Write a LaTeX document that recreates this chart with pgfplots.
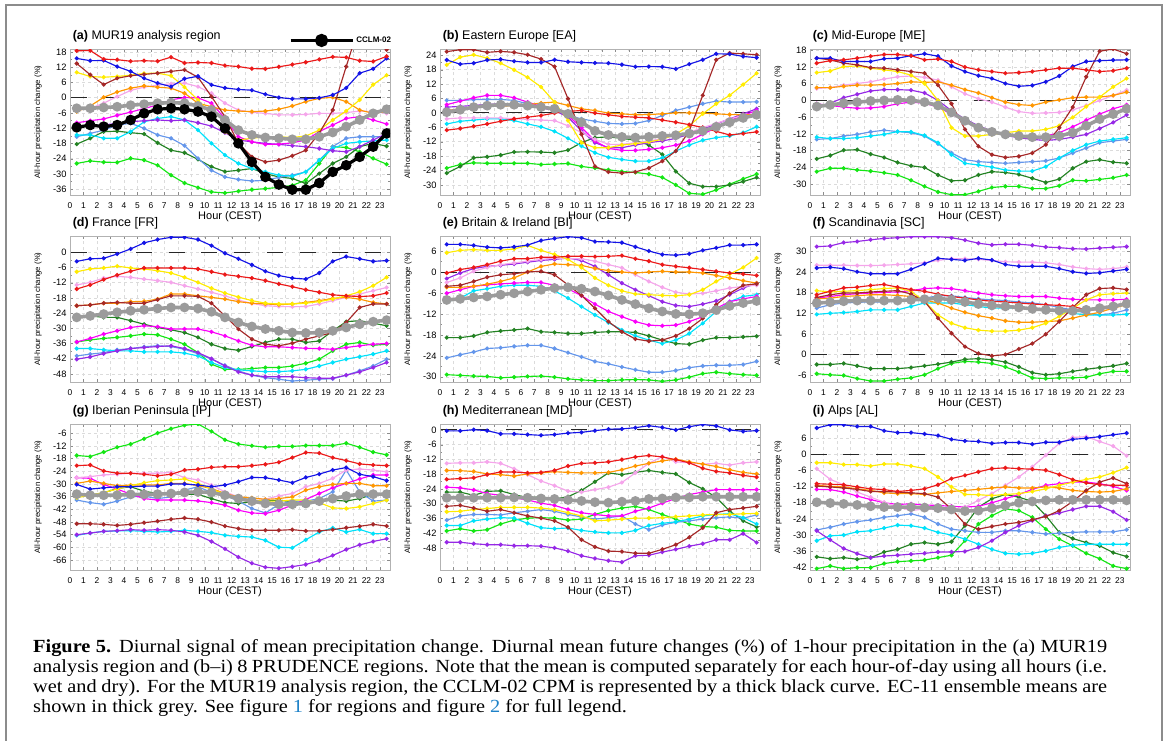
\documentclass[border=0pt]{standalone}
\usepackage{fontspec}
\setmainfont{Liberation Sans}
\newfontfamily\capfont[FakeStretch=1.10]{Liberation Serif}
\usepackage{pgfplots}
\usepackage{pgfplotstable}
\pgfplotsset{compat=1.18}
\definecolor{cred}{RGB}{235,25,25}
\definecolor{cblue}{RGB}{20,20,230}
\definecolor{cbrown}{RGB}{165,40,40}
\definecolor{cyellow}{RGB}{255,235,0}
\definecolor{corange}{RGB}{255,150,0}
\definecolor{cpink}{RGB}{245,165,235}
\definecolor{cmagenta}{RGB}{250,0,250}
\definecolor{cpurple}{RGB}{150,40,230}
\definecolor{ccyan}{RGB}{0,225,250}
\definecolor{clblue}{RGB}{100,150,235}
\definecolor{cdgreen}{RGB}{35,130,35}
\definecolor{cgreen}{RGB}{20,230,20}
\definecolor{cgrey}{RGB}{155,155,155}
\definecolor{clink}{RGB}{30,130,200}

% ---------------- data: one row per series, 24 hourly values (0.5 ... 23.5) ----------------
\pgfplotstableread{
name h0 h1 h2 h3 h4 h5 h6 h7 h8 h9 h10 h11 h12 h13 h14 h15 h16 h17 h18 h19 h20 h21 h22 h23
red 18.4 18.5 15.1 14.9 14.3 14.5 14.3 15.9 13.6 13.8 13.6 12.6 12.2 11.4 11.3 12.1 13 13.9 15 16 15.8 14.5 14.2 16.2
blue 15.4 14.5 14.6 12.2 10.3 7.6 5.7 4.3 7.4 8.4 5 3.8 3.2 2.9 1.3 0 -0.5 -0.5 -0.1 1 3.8 9.6 11.3 15.4
brown 13.4 9 5.1 7.6 8.6 9.1 9.6 10.3 10.9 8 0.4 -7.5 -18 -23.3 -25.3 -24.6 -22.9 -20.7 -14 -4.9 12.2 29 28 18.8
yellow 9.9 8.3 8 8.3 8.8 9.5 9.6 8.6 4.1 -0.9 -6.8 -13.4 -16.7 -16 -15.4 -15.4 -15.7 -15.1 -12.8 -8.8 -5.3 -0.9 5.1 8.8
orange -5.5 -3.3 0.1 2.2 3.7 4.6 4.1 3.7 1.7 -2.2 -3.6 -4.9 -5.3 -5.5 -5.3 -4.6 -3.3 -1.6 -0.3 0.1 -1.6 -4.9 -6.2 -5.5
pink -4.9 -4.2 -2.2 0.4 2.8 4.1 4.9 5.4 5.7 4.3 1.7 -2.2 -4.9 -5.8 -6.2 -6.8 -6.8 -6.6 -6.2 -6.2 -5.9 -5.3 -5.5 -6.2
magenta -9.9 -9.1 -8.4 -7 -5.7 -4.3 -2.9 -0.9 0 -0.1 -2.2 -8.2 -15.4 -17.4 -18.4 -18.3 -17.8 -16.7 -13.4 -10.8 -8.2 -7.5 -8.8 -10.4
purple -11.4 -11.2 -10.8 -10.1 -9.5 -9.1 -8.8 -9.1 -8.8 -9.9 -11.2 -13.8 -16.7 -17.4 -18 -18.4 -18.9 -19.3 -20 -20.9 -21.3 -19.3 -16.7 -14.1
cyan -14.7 -14.7 -16 -16 -13.4 -9.5 -8.2 -7.5 -8.8 -12.8 -18 -22.6 -25.9 -27.9 -29.2 -30.5 -30.9 -29.2 -24.6 -20 -18 -17.4 -17 -16.7
lblue -15.4 -14.1 -12.8 -10.8 -10.1 -12.1 -14.7 -16 -18.9 -23.9 -28.6 -31.2 -32.2 -32.8 -32.5 -31.4 -30.5 -29.2 -24.6 -19.3 -16 -15.4 -15.4 -15.4
dgreen -18.3 -16 -13.4 -13.2 -13.8 -14.3 -17.8 -20.7 -21.7 -24.3 -27.2 -29.1 -28.6 -27.9 -29.9 -31.2 -31.8 -33.8 -29.9 -25.9 -23.3 -19.3 -18 -19.1
green -25.9 -24.9 -25.4 -25.5 -23.9 -24.6 -26.6 -30.5 -33.6 -35.4 -37.1 -37.5 -36.8 -36.2 -35.8 -35.3 -34.5 -32.5 -25.9 -19.3 -19.6 -21.3 -23.9 -26.2
grey -4.2 -4.2 -3.9 -3.6 -3 -2.6 -2.2 -2 -2.2 -3.3 -4.9 -8.8 -12.8 -14.7 -15.7 -16 -16.4 -16.4 -15.4 -13.7 -11.4 -8.8 -6.2 -4.6
black -11.7 -10.8 -11.4 -10.8 -8.8 -6.2 -4.6 -4.2 -4.6 -5.5 -7.5 -12.1 -18 -25.3 -31.2 -34.2 -36.2 -36.2 -33.6 -29.2 -26.6 -23.3 -19.3 -14.1
}\rawA
\pgfplotstableread{
name h0 h1 h2 h3 h4 h5 h6 h7 h8 h9 h10 h11 h12 h13 h14 h15 h16 h17 h18 h19 h20 h21 h22 h23
red -7.2 -6.5 -5.6 -4.6 -3.5 -2.5 -1.8 -1.1 -0.1 0.6 1 -0.1 -0.8 -1.5 -1.8 -2.1 -3 -3.9 -4.9 -6.1 -7.7 -9.2 -8.6 -7.9
blue 22 20.3 20.7 22 22.3 21.5 21 21 22.1 21.3 21 20.8 20.7 20.1 19.2 19.3 19.2 18.3 20.3 22.1 24.6 24.5 23.5 23
brown 25.5 26.3 26.3 25.2 25.6 25.2 24.2 22.4 19.3 5.9 -8.9 -22.3 -24.6 -25.1 -24.6 -23 -20.1 -15.9 -7.5 7.3 22.1 24.9 24.6 24.2
yellow 20 23.2 24.2 22.8 20.7 17.9 14.8 10.8 4.5 -3.2 -12.4 -14.5 -14.5 -13.4 -12.8 -12.1 -11 -8.9 -5.4 -0.4 3.8 7.3 11.8 16.5
orange 1 1.7 2.4 2.7 2.7 3.1 3.4 4.1 4.5 3.1 1.7 1 -0.1 -0.4 -0.8 -0.7 -0.4 0 0 -0.1 -0.4 -0.7 -0.8 -0.8
pink -2.5 -2.1 -2.1 -2.1 -2.1 -2.4 -2.7 -3 -3.2 -5.4 -8.2 -11 -13.1 -13.1 -12.4 -11.7 -10.7 -9.2 -8.2 -6.1 -4.4 -2.5 -1.1 -0.1
magenta 3.4 4.9 6.3 7.3 7.3 6.3 4.5 2.7 1.7 -1.1 -6.1 -11.7 -14.8 -15.6 -15.6 -15.2 -14.5 -13.4 -11.7 -8.9 -6.1 -3.2 -1.1 1
purple 2.4 2.7 3.1 3.5 3.8 3.5 2.7 2.1 1 -1.8 -7.5 -12.4 -14.5 -14.5 -13.4 -12.4 -11.7 -10.6 -8.9 -6.8 -4.6 -2.5 -0.4 1.7
cyan -4.6 -3.5 -3 -2.5 -2.5 -3.2 -4.6 -5.8 -7.7 -10.6 -13.8 -16.6 -18.5 -19.4 -20.1 -20.1 -18.7 -15.9 -13.4 -11.4 -10.3 -9.6 -8.2 -5.8
lblue 5.2 5.2 5.5 5.6 5.6 5.2 3.8 2.4 1 -1.1 -2.5 -3.5 -4.4 -4.6 -4.4 -3.2 -1.1 1 2.4 3.8 4.9 4.5 4.5 4.6
dgreen -25.1 -22.3 -18.7 -18.3 -17.6 -16.3 -16.2 -16.3 -16.6 -15.5 -12.4 -10.3 -10 -10.6 -11.4 -13.4 -17.3 -24.4 -29.3 -30.7 -30.7 -30 -28.6 -26.9
green -23 -21.5 -20.8 -21 -21 -21 -21 -21.5 -21.3 -21.1 -22.3 -23 -23.7 -24.4 -24.8 -25.5 -26.9 -30 -33.5 -33.9 -32.1 -29.7 -27.5 -25.5
grey 0.3 1.3 2.4 3 3.4 3.4 3 2.4 1.7 -0.4 -3.9 -7.5 -9.2 -10 -10.3 -10 -9.6 -9.3 -8.6 -7.5 -5.8 -3.9 -2.1 -0.8
}\rawB
\pgfplotstableread{
name h0 h1 h2 h3 h4 h5 h6 h7 h8 h9 h10 h11 h12 h13 h14 h15 h16 h17 h18 h19 h20 h21 h22 h23
red 13.4 14.3 14.6 15.2 15.9 16.5 16.5 16.1 14.6 14.9 14 12 11 10.4 9.8 10 10.4 11 11.6 11.6 11 10.4 10.7 11.6
blue 15.2 15.2 14 14 14 15 15.2 16.1 16.8 15.9 12.4 10.4 8.9 7.9 6.1 5.1 5.4 6.7 8.8 12.2 14 14.3 14.5 14.6
brown 15.2 14.6 13.4 12.8 11.8 11.6 11 10.4 9.8 5.5 -1.2 -10.4 -16.5 -19.5 -20.5 -20.1 -18.9 -15.9 -9.8 -2.4 8.5 17.7 18.5 16.8
yellow 10 10.6 12.2 12.4 11.6 11 10.4 9.1 6.1 0 -9.8 -12.8 -12.8 -12.2 -11.6 -11 -11 -10.4 -9.1 -6.1 -2.2 1.2 4.9 7.9
orange 4.6 4.6 5.1 5.5 5.5 5.7 6.1 6.7 6.5 6.7 5.5 3.9 2.7 1 -0.6 -1.5 -1.8 -0.6 0.2 1 1.2 1.2 1.8 3
pink 4.3 4.6 5.5 6.1 6.7 7.7 8.5 8.8 8.3 7.3 4.9 2.4 0.6 -0.6 -2.4 -4 -4.6 -4.5 -4.3 -3.4 -1.8 0 1.8 3.7
magenta -1.2 -1.8 -2.4 -2.8 -2.7 -2.2 -1.2 -0.6 -1 -2.4 -4.9 -7.3 -9.8 -11.3 -12.4 -13.2 -13.4 -12.8 -11.6 -9.5 -7.1 -4.9 -3 -1.6
purple -2.2 -1 1 2.2 3.4 3.9 3.9 3.7 2.7 0 -3.7 -6.7 -9.1 -11 -12.6 -13.4 -14 -14.4 -14 -13.2 -12.2 -10.1 -7.9 -5.2
cyan -13.2 -13.7 -13.7 -13.4 -12.8 -12.2 -11.2 -11.3 -12.6 -15.2 -19.5 -22.6 -23.2 -24 -25 -25.4 -25.4 -23.8 -20.7 -18 -15.9 -14.6 -14 -13.4
lblue -14 -13.7 -12.8 -12.2 -11.3 -10.7 -11.2 -11.6 -12.8 -15.6 -18.9 -21.3 -22 -22.3 -22.6 -22.3 -22 -21.7 -20.7 -18.9 -17.1 -15.2 -14.6 -14
dgreen -21 -19.8 -17.9 -17.7 -19.3 -20.5 -22.3 -23.5 -24.1 -26.8 -28.9 -28.7 -26.8 -25.6 -25.9 -26.6 -28 -29.5 -28.3 -24.4 -22 -21.3 -22.2 -22.6
green -25.6 -24.4 -24.4 -25 -25.4 -26 -26.8 -28.7 -30.9 -32.9 -33.9 -33.9 -32.7 -31.3 -30.9 -30.9 -31.7 -31.7 -30.7 -28.7 -28.9 -28.4 -27.8 -26.8
grey -2.2 -1.6 -1 -0.6 -0.2 0 0.2 0.1 -0.6 -1.8 -4.3 -7.3 -9.8 -11.3 -12.2 -12.8 -13.2 -13.2 -12.8 -11.6 -9.1 -6.7 -4.9 -3
}\rawC
\pgfplotstableread{
name h0 h1 h2 h3 h4 h5 h6 h7 h8 h9 h10 h11 h12 h13 h14 h15 h16 h17 h18 h19 h20 h21 h22 h23
red -14.5 -12.9 -10.8 -9 -7.5 -6.2 -6.2 -6.2 -6.2 -6.6 -7.7 -8.8 -9.5 -10.2 -11.2 -12.5 -13.6 -14.8 -15.8 -16.8 -17.2 -17.5 -17.2 -16.1
blue -3.6 -2.6 -2.4 -0.7 1.3 3.7 5 5.9 5.9 5 2.6 -0.4 -2.6 -5 -7.5 -9.2 -10.2 -10.6 -8.2 -3.6 -1.7 -2.6 -3.6 -3.3
brown -21.1 -20.8 -20.1 -19.8 -20.1 -20.1 -18.7 -17.2 -17.2 -17.4 -20.1 -25.1 -30.3 -34.3 -36.3 -36.9 -35.9 -34.3 -33 -31.7 -27.7 -21.8 -20.4 -20.4
yellow -7.7 -6.6 -6.2 -5.5 -6.2 -6.6 -7.3 -8.2 -9.9 -11.9 -14.2 -16.1 -17.7 -19.1 -20.1 -20.4 -20.4 -20.1 -19.5 -18.5 -17.2 -15.6 -13.2 -9.9
orange -21.1 -20.8 -20.1 -20.1 -19.5 -19.4 -18.5 -16.5 -16.5 -17.2 -17.8 -18.5 -19.5 -20.1 -20.4 -20.7 -20.4 -19.8 -19.1 -18.2 -17.8 -18.5 -19.8 -20.4
pink -12.9 -11.9 -10.2 -9.5 -9.9 -10.6 -11.2 -11.9 -13.2 -14.5 -15.8 -17.2 -18.9 -20.2 -21.1 -21.4 -21.5 -21.4 -20.4 -19.1 -17.8 -16.5 -15.2 -13.9
magenta -35.4 -34 -32.3 -31 -29.7 -29 -29.4 -30.3 -30.3 -30.3 -31.4 -33 -35 -36.7 -37.3 -37.3 -37.6 -37.9 -38 -38.3 -37.6 -36.9 -36.3 -36
purple -42.2 -41.3 -40 -38.9 -38 -37.6 -37.2 -36.9 -38 -39.6 -42 -44.9 -47.2 -48.5 -49.1 -49.1 -49.1 -49.5 -49.7 -49.7 -48.5 -47.2 -45.5 -43.5
cyan -38 -38 -38.5 -38.9 -38.9 -39.3 -39.3 -39.3 -39.8 -40.9 -43.5 -45.5 -46.4 -46.8 -47.1 -47.1 -46.8 -46.2 -44.9 -43.5 -42.2 -41.2 -40.2 -38.9
lblue -40.9 -40.2 -39.6 -38.5 -38 -37.3 -36.9 -37.2 -38.3 -40 -42.2 -44.6 -46.8 -48.5 -49.5 -50.1 -50.8 -50.5 -50.1 -49.9 -48.5 -46.8 -44.9 -42.2
dgreen -25.5 -25.1 -25.7 -25.7 -27 -28.4 -29.7 -30.6 -31.7 -33.6 -36.3 -38 -38.7 -37.2 -35.6 -34.3 -34.3 -35.6 -35 -31 -27.4 -27 -28 -29
green -35.4 -34.6 -34 -33.6 -33 -32.3 -32.6 -34.3 -36.3 -39.6 -44.2 -46.2 -46.2 -45.9 -45.5 -45.5 -44.9 -43.8 -42.2 -38.9 -36.3 -35.6 -36.7 -36.3
grey -25.7 -25.1 -24.4 -23.7 -23.1 -22.7 -22.2 -21.8 -21.8 -22.2 -23.5 -25.7 -27.7 -29.3 -30.3 -31 -31.7 -31.9 -31.7 -31 -29.7 -28.4 -27.4 -26.8
}\rawD
\pgfplotstableread{
name h0 h1 h2 h3 h4 h5 h6 h7 h8 h9 h10 h11 h12 h13 h14 h15 h16 h17 h18 h19 h20 h21 h22 h23
red -0.3 0.7 1.3 2.1 3.1 3.8 3.8 4.2 4.2 4.5 4.5 4.4 4.5 4.7 3.8 3.1 2.1 1.6 1.2 0.7 0.2 -0.3 -0.6 -1
blue 7.9 7.9 7.6 7.1 6.9 7.2 7.7 9 9.6 10.1 9.8 8.7 8.6 8.4 7.2 6 5 4.8 5.2 6.2 6.9 7.7 7.7 7.9
brown -4.1 -3.8 -2.7 -1.5 -0.8 -0.5 0 0.2 -0.8 -3.7 -6.7 -10.4 -14.2 -17.1 -19.2 -19.8 -19.5 -18.3 -16.2 -13.3 -9.4 -6.1 -3.8 -3.4
yellow 5.5 6.2 6.4 6.2 6.2 6.6 7.6 6.2 5 3.6 1.3 -1.7 -3.8 -5.4 -6.3 -6.5 -6.7 -6.8 -6.5 -5.1 -2.7 -0.6 1.3 4
orange -4.4 -4.4 -4.1 -3.5 -2.7 -1.7 0 1.6 2.3 2.1 1.9 1 0.4 0 -0.3 0 0.2 0 0 -0.3 -1 -1.7 -2.5 -3.2
pink -3 -1.7 0.2 1.3 2.1 2.6 3.1 3.6 4 3.8 3.8 3.1 2.1 1.2 -0.8 -2.7 -4.4 -5.8 -6.3 -6.1 -5.4 -4.6 -4.1 -3.8
magenta -6.1 -5.1 -4.1 -3.7 -3.4 -3.2 -3 -3 -3.8 -4.8 -6.8 -9.2 -11.3 -12.8 -14.2 -15.2 -15.4 -15.2 -14.2 -12.8 -10.4 -8.5 -7.7 -7
purple -1.9 -0.3 1 1.6 1.9 2.3 2.8 3.3 3.6 4 3.3 1.6 -0.8 -3.2 -5.1 -6.8 -8.5 -9.6 -9.9 -9.2 -8.3 -6.5 -4.6 -3.2
cyan -8.5 -7.5 -5.4 -4.8 -4.1 -3.8 -3.8 -4.1 -5.4 -7.5 -9.9 -12.3 -14.5 -16.6 -18.3 -19.5 -20.5 -19.5 -17.6 -14.7 -11.3 -8.5 -7 -6.5
lblue -24.6 -23.7 -22.9 -21.9 -21.7 -21.3 -21 -21 -21.9 -23.1 -24.3 -25.6 -26.3 -27.2 -28 -28.7 -28.7 -28.2 -27.4 -26.9 -26.7 -26.7 -26.5 -25.6
dgreen -18.8 -18.8 -18.3 -17.3 -16.9 -16.6 -16.2 -17.1 -17.3 -17.6 -17.6 -17.3 -17.1 -17.1 -17.3 -18.3 -19.5 -20.5 -20.7 -19.5 -18.8 -18.8 -18.6 -18.4
green -29.4 -29.6 -29.8 -29.9 -30.3 -30.1 -29.9 -29.8 -30.1 -30.6 -30.9 -31.1 -31.1 -30.9 -30.8 -30.9 -31.3 -30.9 -30.1 -29.1 -28.7 -29.1 -29.4 -29.6
grey -8 -7.7 -7.3 -7 -6.5 -6.1 -5.6 -5.1 -4.6 -4.4 -4.8 -5.6 -6.7 -8 -9.2 -10.4 -11.3 -12 -12.1 -11.8 -10.9 -9.7 -8.9 -8.3
}\rawE
\pgfplotstableread{
name h0 h1 h2 h3 h4 h5 h6 h7 h8 h9 h10 h11 h12 h13 h14 h15 h16 h17 h18 h19 h20 h21 h22 h23
red 17.4 18.4 19.4 19.6 20.1 20.4 19.6 18.9 18.4 17.6 16.9 16.4 15.9 15.5 15.3 15 14.7 14.5 14.3 14 13 13 14 15.3
blue 25.2 25.4 25 24.1 23.5 23.5 23.5 24.8 26.4 28 27.7 27.4 28 27.5 26.2 25.7 25.7 25.7 25 24.1 23.6 23.8 24.3 24.8
brown 16.6 17.4 17.9 17.9 18.2 18.4 18.6 17.6 15.5 10.6 6.2 2.3 0.3 -0.4 0 1.6 3.2 5.9 9.6 13.7 17.4 19.2 19.4 18.9
yellow 18.6 18.2 18.4 18.6 18.9 19.2 19.4 18.4 15.5 11.5 9.1 7.8 7.1 6.8 6.8 7.1 7.8 9.1 11.1 13.5 15.9 17.4 17.7 17.9
orange 16.2 16.4 16.9 17.1 17.4 17.4 17.2 16.9 15.9 15 13.5 12.3 11.3 10.6 9.8 9.4 9.4 9.6 9.8 10.6 11.5 12.3 13.5 14.5
pink 26 26 26 25.9 25.9 26 26.2 26.4 26.7 27.4 27.9 27.9 27.7 27.4 27 26.9 26.9 26.7 26.2 25.5 25 24.8 25 25.5
magenta 16.4 16.9 17.4 17.7 17.9 18.1 18.2 18.6 19.2 19.4 19.2 18.6 17.9 17.4 17.1 16.9 16.9 16.9 16.4 16.1 15.9 15.9 15.9 16.1
purple 31.4 31.6 32.6 32.9 33.4 33.8 34 34.3 34.3 34.3 34 33.3 32.4 31.9 32.1 32.1 31.8 31.3 31.1 30.8 30.7 31 31.2 31.4
cyan 11.7 12 12.2 12.5 13 13 13 14 15 15 15 14.5 14 13.5 13.5 13.5 13.3 13 12.5 12 11.5 11.5 11.5 11.7
lblue 13.5 14.5 15 15.2 15.3 15.3 15.5 15.9 16.4 17.1 17.1 16.6 16.2 15.9 15.7 15.3 15 14.5 13.7 13 12 11.5 12 13
dgreen -2.9 -2.9 -2.6 -3.3 -4.1 -4.1 -4.1 -3.8 -3.3 -2.8 -2.2 -1.4 -1.2 -1.5 -2.2 -3.6 -5.3 -5.9 -5.6 -4.9 -4.3 -3.8 -3.3 -2.6
green -5.6 -5.9 -6.1 -7 -7.7 -7.7 -7.2 -6.8 -5.9 -4.1 -2.6 -2 -2.2 -2.6 -3.6 -5.1 -6.8 -7 -6.8 -6.8 -6.6 -5.6 -4.9 -4.9
grey 15 15.2 15.5 15.7 15.7 15.7 15.7 15.9 16.1 16.4 15.9 15.3 14.7 14.3 14 13.7 13.3 13 12.8 12.7 13 13.5 14 14.8
}\rawF
\pgfplotstableread{
name h0 h1 h2 h3 h4 h5 h6 h7 h8 h9 h10 h11 h12 h13 h14 h15 h16 h17 h18 h19 h20 h21 h22 h23
red -21.4 -21.1 -23.9 -25 -25 -25.5 -26.2 -25.5 -23.5 -23.1 -22.2 -21.9 -21.9 -21.4 -20.8 -19.8 -17.6 -15.2 -15.5 -17.6 -19 -20.6 -21.1 -21.4
blue -30.3 -32.5 -31.9 -31.4 -31.4 -31.1 -31.1 -30.1 -30.1 -30.6 -31.4 -30.6 -29 -27 -27.1 -28.2 -29.5 -27 -25.4 -23.5 -22.3 -25.5 -26.6 -28.5
brown -48.9 -48.9 -49.2 -49.7 -49.2 -48.4 -47.7 -46.8 -46.2 -46.8 -48.1 -50 -51.2 -52 -52 -52 -51.7 -52.3 -52.3 -51.7 -50.8 -50.1 -49.2 -50
yellow -36.6 -35.4 -34.1 -32.5 -30.9 -29.5 -28.5 -28.2 -27.7 -29.8 -32.5 -35 -36.6 -37.7 -38.2 -38.2 -37.7 -37.7 -38.9 -41.4 -41.7 -40.9 -39.3 -37.7
orange -29.8 -28.7 -29.8 -30.9 -30.6 -30.6 -30.6 -29.8 -29.8 -30.9 -32.2 -34.6 -36.2 -36.6 -37.4 -37 -36.2 -33 -31.4 -30.3 -29.8 -29.8 -30.9 -30.9
pink -27.1 -26.6 -25.8 -25.5 -25 -25 -25 -24.6 -27.1 -28.2 -30.6 -33.8 -36.2 -37 -37.3 -35.7 -34.6 -31.4 -29.8 -27.4 -23.5 -23 -23.5 -24.3
magenta -27.1 -27.4 -30.3 -32.5 -34.9 -37 -37.7 -37.7 -37.7 -38.1 -38.9 -40.1 -42.5 -43.8 -44.1 -42.5 -40.1 -37.4 -34.6 -31.9 -29.8 -27.7 -25.8 -25.8
purple -54.1 -53.3 -52.5 -52.2 -51.7 -52 -51.7 -52 -52.8 -54.4 -57.3 -60.8 -64.7 -67.6 -69.5 -70 -69.2 -68.2 -66.3 -63.9 -61.1 -58.9 -57.3 -56
cyan -54.4 -53.3 -52.5 -52.3 -52.2 -52.5 -52.8 -52.5 -52 -52.5 -53.1 -54.4 -54.9 -55.2 -56.8 -60 -60.3 -56.5 -52.8 -50.9 -52.8 -51.6 -53.6 -53.6
lblue -37.7 -38.9 -39.7 -38.2 -36.2 -35.8 -37 -36.2 -33 -31.4 -34.1 -35.4 -38.2 -41.7 -43.8 -39.8 -38.2 -38.2 -37 -33.8 -23.5 -33.8 -38.2 -37.7
dgreen -35.4 -35.4 -34.3 -32.2 -31.4 -33.5 -34.6 -34.9 -34.9 -35 -37 -38.9 -39.3 -38.5 -38.2 -37.7 -38.5 -38.9 -38.2 -37.7 -38.2 -37 -35 -34.6
green -16.6 -17.1 -15 -12.7 -11.2 -8.7 -6 -3.9 -2.3 -1.7 -5.2 -9.2 -11.2 -12 -12.7 -12.3 -12.3 -11.9 -11.9 -11.9 -10.8 -12.7 -15 -16.3
grey -34.9 -35.4 -35.4 -35.4 -35 -35 -34.9 -34.6 -34.1 -33.8 -34.1 -35.4 -37 -38.2 -39.3 -39.7 -39.7 -39.3 -38.2 -37 -35.8 -34.9 -34.9 -34.9
}\rawG
\pgfplotstableread{
name h0 h1 h2 h3 h4 h5 h6 h7 h8 h9 h10 h11 h12 h13 h14 h15 h16 h17 h18 h19 h20 h21 h22 h23
red -20.1 -19.8 -19.5 -18.2 -17.1 -17.1 -17.5 -17.3 -16.5 -14.7 -13.6 -13.4 -13 -12.1 -11 -10.4 -11 -12.1 -13.4 -15.6 -16.9 -17.5 -18.5 -19.2
blue -0.4 -0.4 0.1 -0.3 -1.6 -1.6 -1.9 -2.2 -1.9 -1.3 -1 -0.3 0.3 0.4 0.9 1.7 1 0 1.3 2.2 1.6 0 -0.6 -0.3
brown -31.1 -30.7 -31.8 -33.1 -32.4 -33.7 -35 -35.9 -37 -39.6 -44.7 -47.6 -49.3 -49.5 -50.2 -50.2 -48.6 -46.7 -43.7 -39.8 -33.7 -32.4 -31.8 -31.1
yellow -33.3 -33.1 -32.4 -32 -31.5 -31.5 -31.5 -31.8 -32.4 -33.7 -35 -37 -36.7 -36.3 -35.9 -35.9 -35.7 -35.3 -35 -34.6 -34.4 -34.4 -34.1 -34
orange -16.5 -16.6 -16.9 -17.9 -18.2 -18.8 -17.9 -17.5 -17 -17.3 -17.5 -17.5 -17.3 -16.2 -14.7 -13.6 -12.6 -11.9 -13 -13.9 -14.9 -16.2 -17.3 -17.9
pink -13.6 -13.4 -13.4 -13 -13.6 -15.8 -18.2 -20.8 -22.7 -24.9 -25.3 -24.3 -23.3 -21.4 -17.5 -13.6 -10.8 -13 -13.4 -13.9 -13.6 -14.3 -13.4 -13
magenta -23.3 -23.6 -24.4 -25.9 -26.6 -27.6 -28.5 -29.8 -30.7 -32.4 -33.7 -34.4 -35 -35 -33.1 -31.8 -29.8 -27.9 -26.3 -25.3 -24.3 -24.3 -24.4 -24.3
purple -45.7 -45.7 -46.3 -46.7 -46.7 -47.1 -47.1 -47.3 -48 -49.3 -51.2 -52.3 -53.2 -53.8 -51.2 -51 -49.7 -48.6 -47.3 -46.3 -44.7 -44.7 -42.2 -45.8
cyan -38.9 -38.9 -37 -36.3 -35.7 -35.9 -38 -39.8 -40.2 -39.9 -40.9 -41.5 -41.9 -41.9 -40.9 -38.9 -38 -37.4 -36.3 -35 -34.4 -34.1 -35.7 -38.3
lblue -36.7 -35 -34.4 -34.4 -34.6 -33.7 -33.1 -32.4 -33.1 -34.4 -35.4 -36.3 -35.7 -35 -38.3 -40.6 -38.7 -37.6 -37 -36.3 -35.7 -35.4 -35.9 -34.6
dgreen -25.3 -25.3 -26.6 -25 -24.8 -26.3 -27.6 -27.2 -28.1 -27.2 -24.6 -21.1 -17.5 -18.2 -17.3 -16.5 -17.3 -17.9 -21.4 -24 -27.5 -33 -37 -39.5
green -41.1 -40.2 -41.1 -40.6 -38.3 -36.7 -35.9 -35.7 -35.9 -36.7 -36.3 -34.4 -32.8 -31.8 -31.1 -32.4 -34.4 -36.3 -38.3 -39.3 -39.6 -40.9 -41.1 -41.1
grey -27.6 -27.6 -27.6 -27.6 -27.6 -27.5 -27.6 -27.9 -28.1 -28.5 -28.9 -29.4 -29.6 -29.2 -28.9 -28.1 -27.9 -27.5 -27.5 -27.2 -27.2 -27.2 -27.2 -27.2
}\rawH
\pgfplotstableread{
name h0 h1 h2 h3 h4 h5 h6 h7 h8 h9 h10 h11 h12 h13 h14 h15 h16 h17 h18 h19 h20 h21 h22 h23
red -10.9 -11.1 -11.3 -12.1 -12.8 -13.1 -13.8 -13.4 -12.8 -11.3 -9 -7.8 -6.5 -5.3 -5 -5.3 -5.5 -5.9 -7.5 -9.4 -10.6 -11.3 -11.5 -11.5
blue 9.8 11 11 10.4 10.4 8.8 8.1 8.1 7.6 7 5.6 5 4.8 4.1 4.4 4.4 3.8 4.5 4.5 5.6 6 6.6 7.3 7.9
brown -11.8 -12.1 -12.5 -13 -13.8 -13.8 -14 -14.3 -14.6 -15.9 -20.3 -25.9 -27.8 -26.8 -25.9 -25.3 -24.3 -23.1 -20.9 -17.5 -13.4 -10.3 -8.8 -10.9
yellow -3.1 -3.1 -3.8 -3.8 -4.3 -3.6 -3.6 -4.3 -5.3 -8.4 -12.1 -14.9 -15 -15.3 -14.9 -14.6 -13.8 -12.8 -11.5 -10.3 -9.3 -8.4 -6.8 -4.9
orange -11.5 -11.9 -12.1 -12.8 -13.4 -14.3 -14.6 -14.6 -14.9 -14.3 -13.8 -13.4 -13 -12.5 -12.1 -12.5 -12.5 -12.1 -12.5 -13.4 -13.8 -14 -13.8 -12.8
pink -5.3 -9.3 -11.3 -14 -15.9 -17.8 -19.6 -20.9 -20.3 -20.6 -20.6 -19.6 -17.1 -14.6 -11.5 -8.4 -4.6 -0.3 4.1 6.3 6.6 4.8 3.1 -0.5
magenta -13 -13.1 -14 -15.5 -16.8 -18 -18.6 -18.4 -18.8 -19 -19.3 -19.6 -19.3 -18 -16.5 -14.9 -13 -11.5 -10.9 -10.3 -10.3 -10.9 -11.9 -13.4
purple -28.4 -31.8 -35 -36.9 -38.4 -37.8 -37.5 -37.1 -36.8 -36.3 -36.3 -36.1 -34.6 -32.1 -29 -26.5 -24.6 -22.8 -21.8 -20.5 -19.3 -19.3 -21.3 -24.4
cyan -32.1 -30.3 -30 -28.8 -28.4 -27.4 -26.3 -26.5 -27.4 -29 -30 -31.5 -33.4 -35.3 -36.8 -37.1 -36.8 -35.9 -34.6 -33.8 -33.4 -33.4 -33.4 -33.4
lblue -28.1 -27.1 -25.9 -25 -24.4 -23.4 -22.8 -22.1 -23.4 -25.9 -27.8 -28.4 -29 -29 -28.4 -28.4 -29 -29.6 -29.3 -29 -28.8 -28.8 -28.8 -28
dgreen -38.1 -38.8 -38.4 -39 -38.4 -36.3 -35.3 -33.4 -32.8 -33.4 -32.5 -26.5 -19.6 -16.5 -14.9 -15.9 -17.5 -22.8 -29 -31.3 -32.8 -34 -36.5 -38
green -42.5 -41.5 -42.5 -42.1 -42.1 -40.6 -39.9 -39.6 -39.3 -38.4 -37.5 -32.1 -25.9 -22.8 -20.3 -20.9 -23.4 -27.8 -31.5 -34 -36.8 -38.8 -41.5 -42.5
grey -17.8 -18.1 -18.4 -18.8 -19.3 -19.6 -19.6 -19.6 -19.8 -20 -20.5 -21.1 -20.9 -20 -19 -18 -17.5 -17.1 -16.9 -16.9 -16.9 -16.9 -16.9 -17.1
}\rawI
\pgfplotstabletranspose[colnames from=name]{\tA}{\rawA}
\pgfplotstabletranspose[colnames from=name]{\tB}{\rawB}
\pgfplotstabletranspose[colnames from=name]{\tC}{\rawC}
\pgfplotstabletranspose[colnames from=name]{\tD}{\rawD}
\pgfplotstabletranspose[colnames from=name]{\tE}{\rawE}
\pgfplotstabletranspose[colnames from=name]{\tF}{\rawF}
\pgfplotstabletranspose[colnames from=name]{\tG}{\rawG}
\pgfplotstabletranspose[colnames from=name]{\tH}{\rawH}
\pgfplotstabletranspose[colnames from=name]{\tI}{\rawI}

\pgfplotsset{
  ln/.style={line width=1.15pt, mark=*, mark size=1.5pt, mark options={solid}, forget plot},
  gr/.style={cgrey, line width=3.6pt, mark=*, mark size=3pt, forget plot},
  zl/.style={black!85, line width=0.9pt, dash pattern=on 16pt off 16.7pt, forget plot},
  panel/.style={
    scale only axis, width=320pt, height=146pt, anchor=north west,
    xmin=0, xmax=23.75, xtick={0,...,23},
    minor y tick num=1,
    axis line style={black!30}, tick style={black!45},
    major tick length=3pt, minor tick length=1.8pt,
    grid=major, grid style={black!14, dash pattern=on 3pt off 3pt, line width=0.5pt},
    clip marker paths=true,
    /pgf/number format/assume math mode=true,
    yticklabel style={font=\fontsize{9.3}{10}\selectfont},
    xticklabel style={font=\fontsize{8.4}{9}\selectfont, yshift=-4pt},
    xlabel={Hour (CEST)},
    xlabel style={font=\fontsize{11}{12}\selectfont, at={(axis description cs:0.5,-0.146)}, anchor=center},
    ylabel={All-hour precipitation change (\%)},
    ylabel style={font=\fontsize{7.8}{9}\selectfont, at={(axis description cs:-0.1,0.5)}, anchor=center},
    title style={font=\fontsize{12.5}{14}\selectfont, at={(axis description cs:0.008,1.027)}, anchor=base west, inner sep=0pt},
  },
}
\newcommand\zl{\addplot[zl] coordinates {(0.05,0) (23.75,0)};}
\newcommand\drawall[1]{%
  \addplot[ln,cgreen] table[x expr=\coordindex+0.5,y=green]{#1};
  \addplot[ln,cdgreen] table[x expr=\coordindex+0.5,y=dgreen]{#1};
  \addplot[ln,clblue] table[x expr=\coordindex+0.5,y=lblue]{#1};
  \addplot[ln,ccyan] table[x expr=\coordindex+0.5,y=cyan]{#1};
  \addplot[ln,cpurple] table[x expr=\coordindex+0.5,y=purple]{#1};
  \addplot[ln,cmagenta] table[x expr=\coordindex+0.5,y=magenta]{#1};
  \addplot[ln,cpink] table[x expr=\coordindex+0.5,y=pink]{#1};
  \addplot[ln,corange] table[x expr=\coordindex+0.5,y=orange]{#1};
  \addplot[ln,cyellow] table[x expr=\coordindex+0.5,y=yellow]{#1};
  \addplot[ln,cbrown] table[x expr=\coordindex+0.5,y=brown]{#1};
  \addplot[ln,cblue] table[x expr=\coordindex+0.5,y=blue]{#1};
  \addplot[ln,cred] table[x expr=\coordindex+0.5,y=red]{#1};
  \addplot[gr] table[x expr=\coordindex+0.5,y=grey]{#1};
}

\begin{document}
\begin{tikzpicture}
\path[use as bounding box] (0,0) rectangle (1168pt,-740pt);
\draw[black!45, line width=1.8pt] (6pt,-742pt) -- (6pt,-5pt) -- (1162pt,-5pt) -- (1162pt,-742pt);

% (a)
\begin{axis}[panel, at={(70pt,-49pt)}, ymin=-38.3, ymax=19.1, ytick={-36,-30,...,18},
  title={\textbf{(a)} MUR19 analysis region},
  legend style={at={(axis description cs:1.01,1.012)}, anchor=south east, draw=none, fill=none,
    inner sep=0pt, font=\bfseries\fontsize{8}{9}\selectfont},
  legend image code/.code={\draw[line width=3.5pt] (0pt,0pt) -- (62pt,0pt); \fill (31pt,0pt) circle (5pt);}]
\zl
\drawall{\tA}
\addplot[black, line width=3.2pt, mark=*, mark size=3.6pt] table[x expr=\coordindex+0.5,y=black]{\tA};
\addlegendentry{CCLM-02}
\end{axis}
% (b)
\begin{axis}[panel, at={(440pt,-49pt)}, ymin=-34.2, ymax=26.6, ytick={-30,-24,...,24},
  title={\textbf{(b)} Eastern Europe [EA]}]
\zl
\drawall{\tB}
\end{axis}
% (c)
\begin{axis}[panel, at={(810pt,-49pt)}, ymin=-34, ymax=18.5, ytick={-30,-24,...,18},
  title={\textbf{(c)} Mid-Europe [ME]}]
\zl
\drawall{\tC}
\end{axis}
% (d)
\begin{axis}[panel, at={(70pt,-236pt)}, ymin=-51.2, ymax=6.4, ytick={-48,-42,...,0},
  title={\textbf{(d)} France [FR]}]
\zl
\drawall{\tD}
\end{axis}
% (e)
\begin{axis}[panel, at={(440pt,-236pt)}, ymin=-31.5, ymax=10.3, ytick={-30,-24,...,6},
  title={\textbf{(e)} Britain \& Ireland [BI]}]
\zl
\drawall{\tE}
\end{axis}
% (f)
\begin{axis}[panel, at={(810pt,-236pt)}, ymin=-8, ymax=34.5, ytick={-6,0,...,30},
  title={\textbf{(f)} Scandinavia [SC]}]
\zl
\drawall{\tF}
\end{axis}
% (g)
\begin{axis}[panel, at={(70pt,-424pt)}, ymin=-70.8, ymax=-1.7, ytick={-66,-60,...,-6},
  title={\textbf{(g)} Iberian Peninsula [IP]}]
\drawall{\tG}
\end{axis}
% (h)
\begin{axis}[panel, at={(440pt,-424pt)}, ymin=-57, ymax=2.4, ytick={-48,-42,...,0},
  title={\textbf{(h)} Mediterranean [MD]}]
\zl
\drawall{\tH}
\end{axis}
% (i)
\begin{axis}[panel, at={(810pt,-424pt)}, ymin=-43, ymax=11.3, ytick={-42,-36,...,6},
  title={\textbf{(i)} Alps [AL]}]
\zl
\drawall{\tI}
\end{axis}

% caption
\begin{scope}[every node/.style={anchor=base west, inner sep=0pt, font=\capfont\fontsize{18.5}{20}\selectfont}]
\node at (33pt,-652pt) {\hbox to 1074pt{\textbf{Figure 5.} Diurnal signal of mean precipitation change. Diurnal mean future changes (\%) of 1-hour precipitation in the (a) MUR19}};
\node at (33pt,-672pt) {\hbox to 1074pt{analysis region and (b–i) 8 PRUDENCE regions. Note that the mean is computed separately for each hour-of-day using all hours (i.e.}};
\node at (33pt,-692pt) {\hbox to 1074pt{wet and dry). For the MUR19 analysis region, the CCLM-02 CPM is represented by a thick black curve. EC-11 ensemble means are}};
\node at (33pt,-712pt) {shown in thick grey. See figure \textcolor{clink}{1} for regions and figure \textcolor{clink}{2} for full legend.};
\end{scope}
\end{tikzpicture}
\end{document}
